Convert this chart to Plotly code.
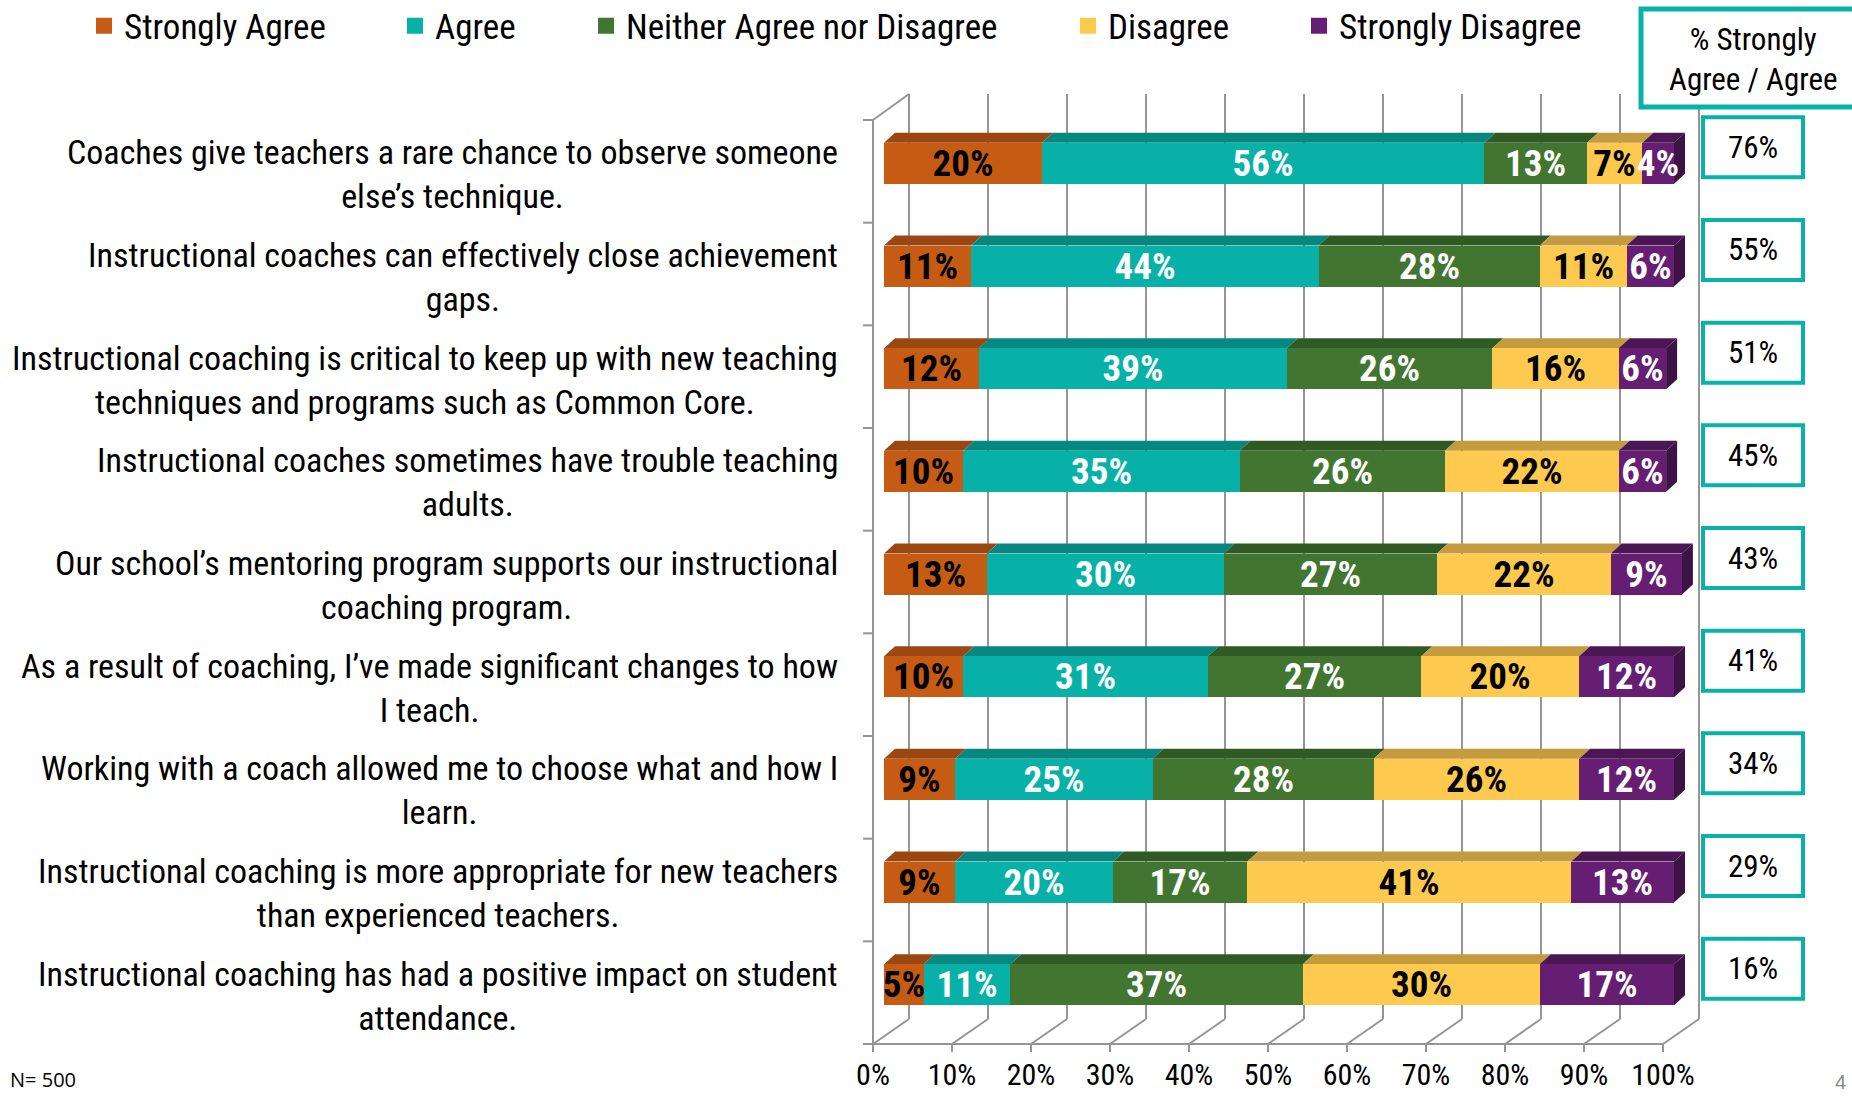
import plotly.graph_objects as go

# ---------------- data ----------------
categories = [
    "Coaches give teachers a rare chance to observe someone<br>else’s technique.",
    "Instructional coaches can effectively close achievement<br>gaps.",
    "Instructional coaching is critical to keep up with new teaching<br>techniques and programs such as Common Core.",
    "Instructional coaches sometimes have trouble teaching<br>adults.",
    "Our school’s mentoring program supports our instructional<br>coaching program.",
    "As a result of coaching, I’ve made significant changes to how<br>I teach.",
    "Working with a coach allowed me to choose what and how I<br>learn.",
    "Instructional coaching is more appropriate for new teachers<br>than experienced teachers.",
    "Instructional coaching has had a positive impact on student<br>attendance.",
]
strongly_agree = [20, 11, 12, 10, 13, 10, 9, 9, 5]
agree = [56, 44, 39, 35, 30, 31, 25, 20, 11]
neither = [13, 28, 26, 26, 27, 27, 28, 17, 37]
disagree = [7, 11, 16, 22, 22, 20, 26, 41, 30]
strongly_disagree = [4, 6, 6, 6, 9, 12, 12, 13, 17]

series_names = ["Strongly Agree", "Agree", "Neither Agree nor Disagree",
                "Disagree", "Strongly Disagree"]
x_tick_values = [0, 10, 20, 30, 40, 50, 60, 70, 80, 90, 100]
x_tick_labels = ["0%", "10%", "20%", "30%", "40%", "50%", "60%", "70%",
                 "80%", "90%", "100%"]
summary_title = "% Strongly<br>Agree / Agree"
sample_note = "N= 500"
page_number = "4"

# ---------------- styles ----------------
front_colors = ["#C65B13", "#08B1A8", "#427630", "#FEC94F", "#651E72"]
top_colors = ["#9B4712", "#06877F", "#2F5A24", "#C49B3E", "#4A1654"]
side_color = "#3D1244"
text_colors = ["black", "white", "white", "black", "white"]
teal = "#09B2A8"
grid_color = "#959595"
FONT = "Liberation Sans Narrow, Arial Narrow, Roboto Condensed, DejaVu Sans Condensed, sans-serif"

W, H = 1852, 1096
PLOT_L, PLOT_R, PLOT_T, PLOT_B = 855, 1715, 85, 1060
X0_PX, X100_PX = 884, 1674          # bar front faces: 0% .. 100%
BAND_TOP_PX, BAND_BOT_PX = 120, 1044
n = len(categories)
ppx = (X100_PX - X0_PX) / 100.0
ppy = (BAND_BOT_PX - BAND_TOP_PX) / n


def px2x(p):
    return (p - X0_PX) / ppx


def px2y(p):
    return (p - BAND_TOP_PX) / ppy


def xpaper(p):
    return (p - PLOT_L) / (PLOT_R - PLOT_L)


def ypaper(p):
    return (PLOT_B - p) / (PLOT_B - PLOT_T)


series = [strongly_agree, agree, neither, disagree, strongly_disagree]

bar_w = 41 / ppy
bar_y = [i + 0.5 - 8 / ppy for i in range(n)]
ddx, ddy = 11 / ppx, 10 / ppy          # depth of bar top face
front_off = -11 / ppx                  # front floor plane
back_dx, back_dy = 25 / ppx, 26 / ppy  # back wall offset from bar plane

fig = go.Figure()
for k, (name, vals) in enumerate(zip(series_names, series)):
    fig.add_trace(go.Bar(
        name=name, orientation="h", x=vals, y=bar_y, width=bar_w,
        marker=dict(color=front_colors[k], line=dict(width=0)),
        text=[f"{v}%" for v in vals], textposition="inside",
        insidetextanchor="middle", textangle=0,
        textfont=dict(family=FONT, size=37, color=text_colors[k], weight="bold"),
        showlegend=False, hoverinfo="skip",
    ))

# legend entries (one legend per item, positioned like the original)
legend_centers = [104, 415, 606, 1088, 1319]
for k, name in enumerate(series_names):
    lg = "legend" if k == 0 else f"legend{k+1}"
    fig.add_trace(go.Scatter(
        x=[None], y=[None], mode="markers", name=name, legend=lg,
        marker=dict(symbol="square", size=16, color=front_colors[k], line=dict(width=0)),
        showlegend=True,
    ))

shapes = []
line = dict(color=grid_color, width=2)
y_floor_back = n - 25 / ppy
y_top_back = -back_dy
for v in x_tick_values:
    shapes.append(dict(type="line", xref="x", yref="y", x0=v + back_dx, x1=v + back_dx,
                       y0=y_top_back, y1=y_floor_back, line=line, layer="below"))
    shapes.append(dict(type="line", xref="x", yref="y", x0=v + front_off, x1=v + back_dx,
                       y0=n, y1=y_floor_back, line=line, layer="below"))
    shapes.append(dict(type="line", xref="x", yref="y", x0=v + front_off, x1=v + front_off,
                       y0=n, y1=n + 8 / ppy, line=line, layer="below"))
shapes.append(dict(type="line", xref="x", yref="y", x0=front_off, x1=front_off,
                   y0=0, y1=n, line=line, layer="below"))
shapes.append(dict(type="line", xref="x", yref="y", x0=front_off, x1=back_dx,
                   y0=0, y1=y_top_back, line=line, layer="below"))
shapes.append(dict(type="line", xref="x", yref="y", x0=front_off - 10 / ppx, x1=100 + front_off,
                   y0=n, y1=n, line=line, layer="below"))
for i in range(n):
    shapes.append(dict(type="line", xref="x", yref="y", x0=front_off - 10 / ppx, x1=front_off,
                       y0=i, y1=i, line=line, layer="below"))

# 3D faces of bars
for i in range(n):
    yt = bar_y[i] - bar_w / 2
    yb = bar_y[i] + bar_w / 2
    c0 = 0
    for k, vals in enumerate(series):
        c1 = c0 + vals[i]
        shapes.append(dict(
            type="path", xref="x", yref="y", layer="below",
            path=f"M {c0},{yt} L {c1},{yt} L {c1+ddx},{yt-ddy} L {c0+ddx},{yt-ddy} Z",
            fillcolor=top_colors[k], line=dict(width=0)))
        c0 = c1
    shapes.append(dict(
        type="path", xref="x", yref="y", layer="below",
        path=f"M {c0},{yt} L {c0+ddx},{yt-ddy} L {c0+ddx},{yb-ddy} L {c0},{yb} Z",
        fillcolor=side_color, line=dict(width=0)))

annotations = []
for i, cat in enumerate(categories):
    annotations.append(dict(
        xref="x", yref="y", x=0, y=i + 0.5, xanchor="right", yanchor="middle",
        xshift=-44, yshift=-3, text=cat, align="center", showarrow=False,
        font=dict(family=FONT, size=34, color="black")))

# summary column
shapes.append(dict(type="rect", xref="paper", yref="paper",
                   x0=xpaper(1641), x1=xpaper(1870), y0=ypaper(107), y1=ypaper(9),
                   line=dict(color=teal, width=5), fillcolor="white", layer="above"))
annotations.append(dict(xref="paper", yref="paper", x=xpaper(1753), y=ypaper(59),
                        text=summary_title, showarrow=False, align="center",
                        xanchor="center", yanchor="middle",
                        font=dict(family=FONT, size=31, color="black")))
for i in range(n):
    total = strongly_agree[i] + agree[i]
    cy = BAND_TOP_PX + (i + 0.5) * ppy - 24
    shapes.append(dict(type="rect", xref="paper", yref="paper",
                       x0=xpaper(1703), x1=xpaper(1803), y0=ypaper(cy + 30), y1=ypaper(cy - 30),
                       line=dict(color=teal, width=4), fillcolor="white", layer="above"))
    annotations.append(dict(xref="paper", yref="paper", x=xpaper(1753), y=ypaper(cy),
                            text=f"{total}%", showarrow=False, xanchor="center",
                            yanchor="middle",
                            font=dict(family=FONT, size=31, color="black")))

annotations.append(dict(xref="paper", yref="paper", x=xpaper(8), y=ypaper(1095),
                        text=sample_note, showarrow=False, xanchor="left", yanchor="bottom",
                        font=dict(family="Open Sans, sans-serif", size=20, color="black")))
annotations.append(dict(xref="paper", yref="paper", x=xpaper(1848), y=ypaper(1095),
                        text=page_number, showarrow=False, xanchor="right", yanchor="bottom",
                        font=dict(family="Liberation Sans, sans-serif", size=20, color="#888888")))

layout_legends = {}
for k in range(len(series_names)):
    key = "legend" if k == 0 else f"legend{k+1}"
    layout_legends[key] = dict(
        xref="container", yref="container", x=(legend_centers[k] - 20) / W,
        y=1 - 26 / H, xanchor="left", yanchor="middle", orientation="h",
        bgcolor="rgba(0,0,0,0)", borderwidth=0, itemwidth=30,
        font=dict(family=FONT, size=35, color="black"))

fig.update_layout(
    width=W, height=H, barmode="stack", bargap=0,
    margin=dict(l=PLOT_L, r=W - PLOT_R, t=PLOT_T, b=H - PLOT_B, pad=0, autoexpand=False),
    paper_bgcolor="white", plot_bgcolor="white",
    xaxis=dict(range=[px2x(PLOT_L), px2x(PLOT_R)], tickvals=x_tick_values,
               ticktext=x_tick_labels, showgrid=False, zeroline=False, showline=False,
               ticks="", ticklabelshift=-11, ticklabelstandoff=-6, automargin=False,
               tickfont=dict(family=FONT, size=30, color="black"), fixedrange=True),
    yaxis=dict(range=[px2y(PLOT_B), px2y(PLOT_T)], showgrid=False, zeroline=False,
               showline=False, showticklabels=False, ticks="", fixedrange=True,
               automargin=False),
    uniformtext=dict(minsize=37, mode="show"),
    shapes=shapes, annotations=annotations,
    **layout_legends,
)

fig.write_html("out.html", config={"displayModeBar": False},
               post_script="document.body.style.margin='0';document.body.style.overflow='hidden';")
